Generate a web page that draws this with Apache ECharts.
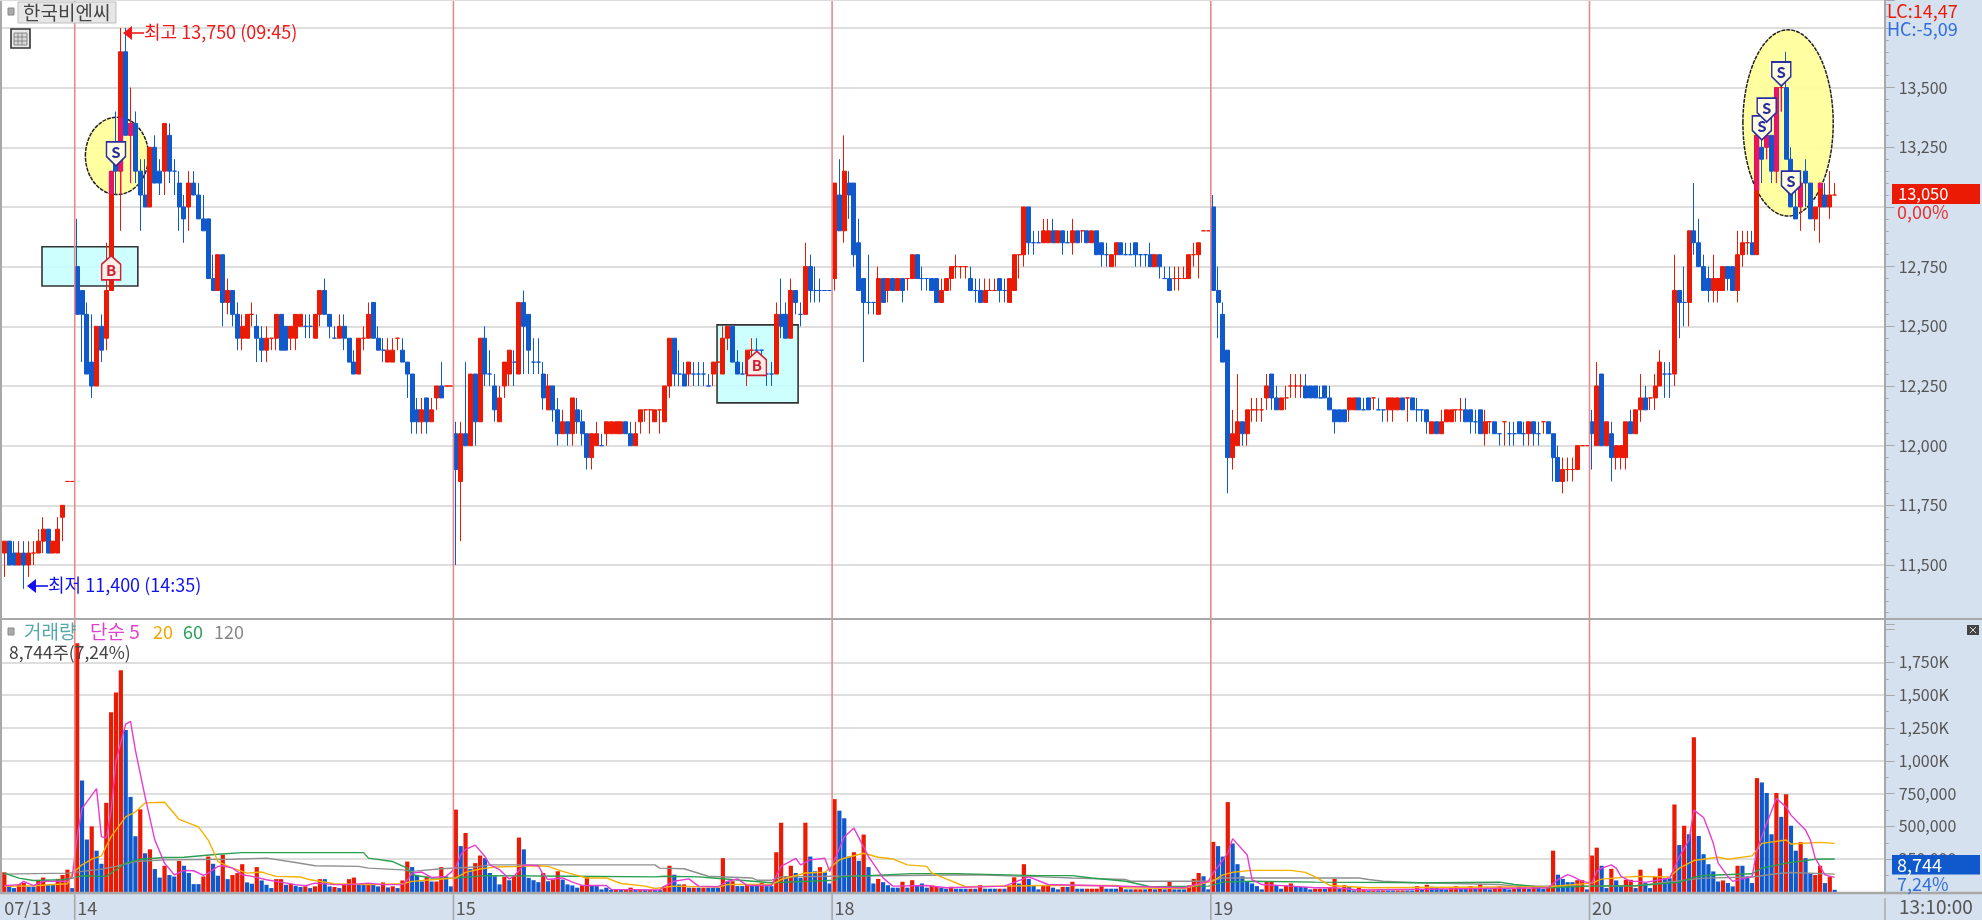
<!DOCTYPE html>
<html><head><meta charset="utf-8">
<style>html,body{margin:0;padding:0;background:#fff}#c{width:1982px;height:920px}</style>
<script src="https://cdn.jsdelivr.net/npm/echarts@6/dist/echarts.min.js"></script>
</head><body><div id="c"></div>
<script>
// candle rows: [open, close, low, high]; a trailing 1 marks a flat candle drawn blue
const day0713=[[11550,11600,11450,11600],[11600,11500,11500,11600],[11550,11500,11500,11600],[11500,11550,11500,11600],[11550,11500,11400,11600],[11500,11550,11450,11600],[11550,11550,11500,11600],[11550,11600,11550,11650],[11600,11650,11550,11700],[11650,11550,11550,11650],[11550,11600,11550,11600],[11550,11650,11550,11700],[11700,11750,11600,11750],[11850,11850,11850,11850],[11850,11850,11850,11850]];
const day14=[[12750,12550,12550,12950],[12650,12550,12350,12650],[12550,12300,12300,12600],[12350,12250,12200,12550],[12250,12500,12250,12500],[12500,12400,12350,12550],[12450,12650,12400,12850],[12650,13150,12650,13150],[13200,13150,13050,13400],[13150,13650,12900,13750],[13650,13300,13300,13750],[13300,13350,13100,13500],[13350,13150,13100,13400],[13150,13050,12900,13200],[13050,13000,13000,13200],[13000,13250,13000,13250],[13250,13100,13100,13300],[13150,13100,13050,13200],[13150,13350,13050,13350],[13300,13150,13100,13350],[13150,13150,13050,13200,1],[13100,13000,12900,13150],[13000,12950,12850,13050],[13000,13100,12900,13150],[13100,13050,13050,13150],[13050,12950,12950,13100],[12950,12900,12900,13050],[12950,12700,12700,12950],[12700,12650,12650,12800],[12650,12800,12650,12800],[12800,12600,12500,12800],[12600,12650,12550,12700],[12650,12550,12500,12650],[12550,12450,12400,12600],[12450,12500,12400,12550],[12450,12550,12450,12550],[12550,12550,12500,12600],[12500,12450,12350,12550],[12450,12400,12350,12500],[12400,12450,12350,12500],[12450,12450,12400,12450],[12450,12550,12400,12550],[12550,12400,12400,12550],[12500,12400,12400,12500],[12450,12500,12400,12500],[12450,12550,12400,12550],[12500,12550,12500,12550],[12500,12500,12450,12550,1],[12500,12500,12450,12550,1],[12450,12550,12450,12550],[12550,12650,12500,12650],[12650,12550,12550,12700],[12550,12500,12450,12550],[12450,12450,12450,12500,1],[12450,12500,12450,12550],[12500,12450,12400,12550],[12450,12350,12350,12450],[12350,12300,12300,12400],[12300,12450,12300,12450],[12450,12450,12400,12500],[12450,12550,12450,12600],[12600,12450,12450,12600],[12450,12400,12400,12500],[12400,12400,12350,12450,1],[12350,12400,12350,12450],[12350,12400,12350,12450],[12450,12450,12400,12450],[12400,12350,12350,12450],[12350,12300,12200,12350],[12300,12100,12050,12300],[12150,12100,12050,12200],[12100,12150,12050,12200],[12200,12100,12050,12200],[12100,12150,12100,12200],[12200,12250,12150,12250],[12250,12200,12200,12350],[12250,12250,12250,12250],[12250,12250,12250,12250]];
const day15=[[12050,11900,11500,12100],[11850,12050,11600,12100],[12050,12000,12000,12350],[12000,12300,12000,12300],[12300,12100,12000,12300],[12100,12450,12100,12450],[12450,12300,12250,12500],[12300,12300,12250,12400,1],[12250,12150,12100,12300],[12100,12200,12100,12250],[12250,12350,12200,12350],[12300,12400,12250,12400],[12350,12350,12250,12400,1],[12300,12600,12300,12600],[12600,12500,12300,12650],[12550,12400,12300,12550],[12350,12350,12300,12450,1],[12350,12350,12300,12450,1],[12300,12200,12150,12350],[12150,12250,12150,12300],[12250,12150,12100,12250],[12150,12050,12000,12200],[12050,12100,12050,12150],[12100,12050,12000,12100],[12050,12200,12000,12200],[12150,12100,12050,12200],[12100,12050,12000,12150],[12050,11950,11900,12050],[11950,12050,11900,12050],[12000,12050,12000,12100],[12000,12000,12000,12050,1],[12050,12100,12000,12100],[12050,12100,12050,12100],[12050,12100,12050,12100],[12050,12100,12050,12100],[12100,12050,12050,12100],[12050,12000,12000,12100],[12000,12050,12000,12100],[12100,12150,12050,12150],[12150,12150,12100,12150],[12150,12150,12050,12150],[12100,12150,12100,12150],[12150,12150,12050,12150],[12100,12250,12100,12250],[12250,12450,12200,12450],[12450,12300,12250,12450],[12300,12300,12250,12400,1],[12300,12250,12250,12350],[12300,12350,12250,12350],[12300,12300,12250,12350,1],[12300,12300,12250,12350,1],[12300,12300,12250,12350,1],[12250,12250,12250,12300,1],[12300,12350,12250,12350],[12350,12350,12300,12350],[12300,12450,12300,12500],[12450,12500,12400,12500],[12500,12350,12350,12500],[12350,12300,12300,12400],[12300,12300,12300,12350,1],[12300,12400,12250,12400],[12400,12400,12350,12450],[12400,12400,12350,12450,1],[12400,12400,12350,12400,1],[12300,12300,12250,12300,1],[12300,12300,12250,12350,1],[12300,12550,12300,12600],[12550,12500,12450,12700],[12550,12450,12450,12600],[12450,12650,12450,12700],[12650,12600,12550,12650],[12550,12550,12500,12600,1],[12550,12750,12550,12850],[12750,12650,12600,12800],[12650,12650,12600,12750,1],[12650,12650,12600,12700,1],[12650,12650,12650,12650,1],[12650,12650,12650,12650,1]];
const day18=[[12700,13100,12650,13100],[13050,12900,12900,13200],[12900,13150,12850,13300],[13100,13050,12950,13150],[13100,12800,12750,13100],[12850,12650,12650,12950],[12700,12600,12350,12700],[12600,12600,12550,12800,1],[12600,12600,12550,12600,1],[12550,12700,12550,12750],[12700,12600,12600,12700],[12650,12700,12600,12700],[12700,12650,12650,12700],[12650,12700,12650,12700],[12700,12650,12600,12700],[12700,12700,12650,12700],[12700,12800,12700,12800],[12800,12700,12700,12800],[12700,12700,12650,12750,1],[12700,12700,12650,12700,1],[12700,12650,12650,12700],[12700,12600,12600,12700],[12600,12650,12600,12700],[12650,12700,12650,12700],[12700,12750,12650,12750],[12750,12750,12700,12800],[12750,12750,12700,12750],[12750,12750,12700,12750],[12700,12650,12650,12750],[12650,12650,12600,12700,1],[12650,12600,12600,12700],[12600,12650,12600,12700],[12650,12650,12650,12700],[12650,12650,12650,12700],[12700,12650,12600,12700],[12650,12650,12600,12700,1],[12600,12700,12600,12700],[12650,12800,12650,12800],[12800,12800,12700,12800],[12800,13000,12750,13000],[13000,12850,12800,13000],[12850,12850,12800,12900,1],[12850,12850,12850,12900,1],[12850,12900,12850,12950],[12850,12900,12850,12950],[12900,12850,12850,12950],[12850,12900,12850,12900],[12900,12850,12800,12900],[12850,12850,12850,12900,1],[12850,12900,12800,12950],[12900,12850,12850,12900],[12900,12900,12850,12900],[12900,12850,12850,12900],[12850,12900,12850,12900],[12900,12800,12800,12900],[12850,12800,12750,12850],[12800,12800,12750,12850,1],[12750,12800,12750,12800],[12800,12850,12750,12850],[12850,12800,12800,12850],[12800,12800,12800,12850,1],[12800,12800,12800,12850,1],[12850,12800,12750,12850],[12800,12800,12750,12800,1],[12800,12800,12750,12800,1],[12800,12750,12750,12850],[12750,12800,12750,12800],[12800,12750,12700,12800],[12700,12700,12700,12750,1],[12700,12650,12650,12750],[12700,12700,12650,12750],[12700,12700,12650,12750],[12700,12700,12700,12750],[12700,12800,12700,12800],[12800,12800,12750,12850],[12800,12850,12700,12850],[12900,12900,12900,12900],[12900,12900,12900,12900]];
const day19=[[13000,12650,12650,13050],[12650,12600,12450,12750],[12550,12350,12350,12600],[12400,11950,11800,12400],[11950,12050,11900,12150],[12000,12100,12000,12300],[12100,12050,12000,12100],[12050,12150,12000,12150],[12150,12150,12100,12200],[12150,12150,12100,12200],[12150,12150,12100,12200],[12200,12250,12150,12300],[12300,12200,12150,12300],[12200,12150,12150,12250],[12150,12200,12150,12200],[12200,12200,12150,12250],[12250,12250,12200,12300],[12250,12250,12200,12300],[12250,12250,12200,12300],[12250,12200,12200,12300],[12250,12200,12200,12250],[12250,12200,12200,12250],[12200,12200,12200,12250,1],[12250,12200,12200,12250],[12200,12150,12150,12250],[12150,12100,12050,12150],[12150,12100,12100,12150],[12150,12100,12100,12150],[12150,12200,12100,12200],[12150,12200,12150,12200],[12200,12150,12150,12200],[12150,12150,12150,12200,1],[12200,12150,12150,12200],[12200,12200,12150,12200],[12150,12150,12150,12200,1],[12150,12150,12100,12150,1],[12150,12200,12100,12200],[12150,12200,12100,12200],[12150,12200,12150,12200],[12200,12150,12150,12200],[12200,12200,12100,12200],[12200,12150,12150,12200],[12150,12150,12100,12200,1],[12150,12150,12100,12150,1],[12150,12100,12050,12150],[12050,12100,12050,12100],[12100,12050,12050,12100],[12050,12100,12050,12150],[12100,12150,12100,12150],[12100,12150,12100,12150],[12150,12150,12100,12150],[12150,12150,12100,12200],[12150,12100,12100,12200],[12150,12100,12050,12150],[12100,12100,12050,12150,1],[12150,12050,12050,12150],[12050,12100,12000,12150],[12100,12100,12050,12100],[12100,12050,12050,12100],[12050,12050,12000,12050,1],[12100,12100,12000,12100],[12050,12050,12000,12100,1],[12050,12050,12000,12100,1],[12100,12050,12050,12100],[12050,12050,12000,12100,1],[12050,12100,12000,12100],[12100,12050,12000,12100],[12050,12050,12000,12100,1],[12100,12100,12050,12100],[12100,12050,12050,12100],[12050,11950,11850,12050],[11950,11850,11850,12000],[11850,11900,11800,11950],[11900,11900,11850,11950],[11900,11900,11850,11950],[11900,12000,11900,12000],[12000,12000,12000,12000],[12000,12000,12000,12000]];
const day20=[[12100,12050,11900,12150],[12000,12250,12000,12350],[12300,12000,12000,12300],[12000,12100,12000,12100],[12050,11950,11850,12100],[11950,12000,11900,12000],[11950,12000,11900,12000],[11950,12100,11900,12100],[12100,12050,12050,12150],[12050,12150,12050,12150],[12150,12200,12100,12300],[12200,12150,12150,12250],[12200,12200,12150,12200],[12200,12250,12150,12300],[12250,12350,12250,12400],[12300,12300,12200,12350,1],[12300,12300,12200,12350,1],[12300,12650,12250,12800],[12650,12600,12450,12650],[12600,12600,12500,12750,1],[12600,12900,12500,12900],[12900,12850,12800,13100],[12850,12750,12750,12950],[12750,12650,12650,12800],[12700,12650,12600,12750],[12650,12700,12600,12800],[12650,12700,12600,12700],[12650,12750,12650,12750],[12750,12700,12650,12750],[12750,12650,12650,12750],[12650,12800,12600,12900],[12800,12850,12750,12900],[12850,12850,12800,12900],[12850,12800,12800,12900],[12800,13300,12800,13300],[13250,13200,13100,13300],[13250,13300,13200,13400],[13300,13150,13100,13300],[13150,13500,13100,13500],[13500,13500,13400,13550],[13500,13200,13200,13650],[13200,13000,13000,13250],[13000,12950,12950,13100],[13000,13100,12900,13100],[13150,13100,13000,13200],[13100,12950,12950,13100],[12950,13000,12900,13000],[13000,13100,12850,13100],[13050,13000,13000,13100],[13000,13050,12950,13150],[13050,13050,13050,13100]];

// volume in thousands of shares; negative = blue bar, positive = red bar
const vol0713=[150,-45,-30,60,70,-40,-40,90,110,-55,-55,100,130,170,-30];
const vol14=[1896,-850,-400,500,-315,-215,680,1370,1520,1690,-1235,-725,-425,630,-295,325,-175,-110,200,-130,-118,237,-200,-145,-60,-60,118,270,-215,-124,283,-98,130,144,212,-73,-63,190,-88,-55,-30,98,98,-55,63,-48,-38,43,-30,43,98,-98,-43,38,-30,55,98,110,-55,-55,55,-55,-43,73,-35,43,-30,88,232,-190,-130,-80,118,-80,80,190,-118,-43];
const vol15=[628,-350,450,-175,220,278,-258,-145,-120,-58,115,-90,120,415,-325,-108,-90,-75,145,-82,95,158,-95,-58,-50,-33,50,115,-50,-45,-20,-33,-15,15,-15,15,33,-15,15,-15,15,-15,-15,45,200,-132,-58,58,-33,33,-33,33,-33,-33,-33,258,-82,82,-45,-45,58,-50,-50,70,-45,-45,303,528,-120,200,-145,-108,528,-270,-158,190,-150,-65];
const vol18=[708,-620,-562,-270,303,-238,438,-190,-65,100,-75,-52,-33,-33,78,-33,90,-50,-65,-33,50,40,-33,-25,40,-25,-25,-25,25,-25,52,-25,-25,-25,25,-25,50,112,-65,212,-100,-50,-20,50,50,-33,-20,38,-38,78,-25,-25,25,25,25,45,-25,-25,-25,38,-20,-20,20,20,-20,25,-20,25,-20,78,-20,-20,-20,50,100,145,-120,-20];
const vol19=[382,-350,-270,685,-370,-212,-120,-82,-65,-45,-20,82,82,-50,-25,50,65,-38,-38,-38,-20,25,25,-25,33,100,-25,52,-40,-12,33,20,-12,12,-12,12,-12,-12,12,12,-12,-12,45,-20,55,-40,-33,-25,-20,33,45,-25,-25,45,-25,58,-25,-20,33,45,-25,-20,25,-45,33,-25,45,-45,-25,45,315,-132,-100,-75,-75,90,90,-20];
const vol20=[278,338,-200,-30,177,-88,-43,93,93,-30,170,-68,-30,118,180,-105,-105,667,-358,505,-440,1180,-427,-288,-212,-157,-80,88,-68,-43,200,-200,-118,-68,868,-835,-755,-440,755,-573,745,-505,-315,380,-258,-144,130,200,-68,118,-17];

// moving-average curves: [bar index, thousands]
const ma5=[[0,48],[3,56],[4,81],[6,48],[8,81],[13,81],[14,119],[15,422],[16,636],[17,687],[19,788],[20,422],[21,410],[22,624],[23,1000],[25,1280],[26,1300],[27,1080],[29,725],[31,396],[33,220],[35,131],[37,164],[39,162],[41,126],[42,144],[44,195],[45,200],[47,182],[49,131],[51,119],[54,93],[56,81],[60,56],[62,48],[64,68],[68,56],[71,56],[75,68],[78,56],[82,56],[83,93],[84,144],[86,152],[88,111],[91,119],[92,150],[93,190],[94,282],[95,325],[97,357],[99,270],[100,207],[102,170],[104,100],[105,120],[107,207],[110,200],[111,132],[112,95],[115,107],[117,75],[119,50],[124,50],[125,20],[135,15],[136,45],[138,82],[141,100],[143,45],[147,40],[149,82],[151,100],[153,50],[158,50],[160,195],[163,257],[164,207],[166,245],[169,257],[170,157],[173,420],[175,487],[178,270],[181,107],[183,45],[190,50],[194,32],[206,45],[211,115],[215,57],[243,32],[248,82],[249,145],[252,295],[253,407],[256,282],[257,95],[259,57],[265,45],[270,32],[274,32],[279,15],[318,32],[320,95],[322,132],[323,119],[325,81],[327,68],[328,157],[329,182],[331,207],[332,182],[333,119],[335,81],[337,81],[338,73],[343,106],[344,182],[345,270],[347,396],[348,624],[350,568],[351,472],[352,371],[353,220],[355,119],[356,81],[360,119],[361,321],[363,523],[365,712],[367,649],[368,586],[371,472],[372,396],[373,258],[375,131],[377,111]];
const ma20=[[0,43],[6,48],[13,63],[14,144],[16,207],[18,250],[20,275],[22,422],[25,573],[27,611],[29,679],[33,684],[35,598],[36,553],[40,497],[42,396],[44,232],[47,182],[50,144],[53,152],[56,119],[61,114],[63,93],[68,63],[75,56],[82,63],[84,81],[88,93],[93,107],[95,150],[98,175],[101,190],[106,195],[110,200],[112,195],[115,157],[118,127],[120,107],[124,107],[127,65],[132,45],[134,27],[138,45],[147,37],[149,57],[158,57],[160,95],[165,145],[169,150],[172,245],[173,257],[177,295],[180,265],[183,252],[186,207],[190,195],[191,145],[194,100],[198,40],[214,50],[229,50],[231,32],[243,27],[249,85],[251,130],[253,150],[257,165],[265,165],[268,150],[270,115],[273,50],[281,32],[318,40],[327,68],[329,98],[336,119],[343,114],[345,182],[348,240],[353,265],[355,250],[360,275],[362,371],[367,396],[368,366],[374,378],[377,371]];
const ma60=[[0,144],[3,106],[6,88],[12,93],[14,106],[16,124],[21,119],[25,220],[28,250],[33,263],[37,265],[44,288],[49,300],[74,300],[75,258],[80,232],[83,182],[84,131],[88,106],[93,107],[99,125],[117,120],[134,115],[136,120],[143,115],[146,107],[158,70],[171,90],[172,115],[187,140],[196,140],[213,125],[220,125],[224,107],[231,82],[234,57],[236,40],[248,45],[251,75],[257,82],[270,75],[293,70],[308,75],[311,57],[318,32],[327,45],[336,48],[345,73],[348,111],[350,126],[360,139],[362,182],[367,220],[373,250],[377,252]];
const ma120=[[0,136],[13,144],[20,174],[23,195],[27,232],[33,245],[47,250],[54,258],[60,225],[64,200],[73,195],[75,182],[82,169],[84,157],[90,177],[97,190],[100,207],[134,207],[135,182],[140,177],[145,120],[154,107],[155,90],[158,90],[160,115],[171,120],[200,132],[214,115],[220,107],[231,95],[232,82],[248,82],[251,107],[279,107],[281,95],[284,82],[291,70],[308,57],[311,45],[327,45],[336,48],[344,81],[350,106],[360,114],[365,139],[368,149],[377,136]];

// signals and annotations in data terms
const sellMarks=[[23,13222],[362,13331],[363,13406],[366,13557],[368,13100]];
const buyMarks=[[22,12745],[155,12345]];
const ellipses=[{i:23.2,price:13214,rBars:6.5,rPrice:162},{i:367.4,price:13352,rBars:9.3,rPrice:390}];
const boxes=[{i0:7.76,i1:27.5,p0:12669,p1:12833},{i0:146.8,i1:163.5,p0:12179,p1:12506}];

const dayStarts={0:'07/13',15:'14',93:'15',171:'18',249:'19',327:'20'};
const TOTAL=388;
const priceTicks={min:11250,max:13867,step:250};
const hiddenPriceLabels=[11250,13000,13750,13867];

const RED='#ea1a05',BLUE='#1059cc',PINK='#e5156f',BAND='#d6e1ef',GRIDC='#dedede',AX='#a8a8a8';
const FONT='"Noto Sans CJK KR","Noto Sans",sans-serif';

const cats=new Array(TOTAL).fill('').map((_,i)=>dayStarts[i]||'');
const rows=new Array(TOTAL).fill(null), vols=new Array(TOTAL).fill(null);
[[0,day0713,vol0713],[15,day14,vol14],[93,day15,vol15],[171,day18,vol18],[249,day19,vol19],[327,day20,vol20]].forEach(([s,d,v])=>{
  d.forEach((r,k)=>rows[s+k]=r); v.forEach((x,k)=>vols[s+k]=x);
});
const candleData=rows.map(r=>{
  if(!r) return '-';
  const blue=r[1]<r[0]||r[4]===1, c=blue?BLUE:RED;
  return {value:r.slice(0,4),itemStyle:{color:c,color0:c,borderColor:c,borderColor0:c}};
});
const volData=vols.map(v=>v==null?'-':{value:Math.abs(v),itemStyle:{color:v<0?BLUE:RED}});

const chart=echarts.init(document.getElementById('c'),null,{renderer:'canvas',width:1982,height:920});
const L=1.9,BW=4.855,PW=TOTAL*BW;
const lab=(f,c)=>({fontFamily:FONT,fontSize:16,color:'#555',formatter:f,margin:13,...(c||{})});

function ellipsePx(api,e){
  const base=Math.floor(e.i),w=api.size([1,0])[0];
  const c=api.coord([base,e.price]);
  const top=api.coord([base,e.price+e.rPrice])[1];
  return {cx:c[0]+(e.i-base)*w,cy:c[1],rx:e.rBars*w,ry:c[1]-top};
}
const maLine=(name,data,color,z)=>({name,type:'line',xAxisIndex:1,yAxisIndex:1,data,symbol:'none',silent:true,z,
  lineStyle:{color,width:1.4},clip:true,animation:false});

chart.setOption({
  animation:false,
  backgroundColor:BAND,
  grid:[
    {left:L,width:PW,top:0,height:624.67,containLabel:false},
    {left:L,width:PW,top:629.6,height:262.4,containLabel:false}
  ],
  xAxis:[
    {type:'category',gridIndex:0,data:cats,show:false,boundaryGap:true},
    {type:'category',gridIndex:1,data:cats,boundaryGap:true,axisLine:{show:false},axisTick:{show:false},
     axisLabel:{interval:(i)=>!!dayStarts[i],align:'left',fontFamily:FONT,fontSize:18,color:'#555',margin:7,showMinLabel:true,hideOverlap:false}}
  ],
  yAxis:[
    {type:'value',gridIndex:0,position:'right',min:priceTicks.min,max:priceTicks.max,interval:priceTicks.step,
     axisLine:{show:false},axisTick:{show:true,inside:false,length:9,lineStyle:{color:AX,width:1}},
     minorTick:{show:true,splitNumber:5,length:3,lineStyle:{color:AX,width:1}},
     splitLine:{show:true,lineStyle:{color:GRIDC,width:2},showMinLine:false,showMaxLine:false},
     axisLabel:lab(v=>hiddenPriceLabels.includes(v)?'':echarts.format.addCommas(v))},
    {type:'value',gridIndex:1,position:'right',min:0,max:2000,interval:250,
     axisLine:{show:false},axisTick:{show:true,inside:false,length:9,lineStyle:{color:AX,width:1}},
     minorTick:{show:true,splitNumber:2,length:3,lineStyle:{color:AX,width:1}},
     splitLine:{show:true,lineStyle:{color:GRIDC,width:2},showMinLine:false,showMaxLine:false},
     axisLabel:lab(v=>(v===0||v===2000)?'':(v>=1000?echarts.format.addCommas(v)+'K':echarts.format.addCommas(v*1000)))}
  ],
  series:[
    {type:'custom',xAxisIndex:0,yAxisIndex:0,z:1,silent:true,clip:false,data:boxes.map(b=>[Math.round(b.i0),b.p0]),
     renderItem:(p,api)=>{const b=boxes[p.dataIndex],w=api.size([1,0])[0];
       const i=Math.floor(b.i0),a=api.coord([i,b.p1]),c=api.coord([i,b.p0]);
       const x0=a[0]+(b.i0-i)*w,x1=a[0]+(b.i1-i)*w;
       return {type:'rect',shape:{x:x0,y:a[1],width:x1-x0,height:c[1]-a[1]},style:{fill:'rgba(198,255,255,0.88)',stroke:'#333',lineWidth:1.6}};}},
    {type:'custom',xAxisIndex:0,yAxisIndex:0,z:1,silent:true,clip:false,data:ellipses.map(e=>[Math.round(e.i),e.price]),
     renderItem:(p,api)=>{const s=ellipsePx(api,ellipses[p.dataIndex]);
       return {type:'ellipse',shape:s,style:{fill:'rgba(255,255,153,0.92)',stroke:'#222',lineWidth:1.5,lineDash:[4,1]}};}},
    {type:'candlestick',xAxisIndex:0,yAxisIndex:0,z:2,data:candleData,barWidth:4.5,silent:true,clip:false,large:false,
     itemStyle:{borderWidth:1}},
    {type:'custom',xAxisIndex:0,yAxisIndex:0,z:3,silent:true,clip:false,
     data:rows.map((r,i)=>[i,r?r[1]:0]),
     renderItem:(p,api)=>{
       const i=p.dataIndex,r=rows[i]; if(!r||r[1]<r[0]) return null;
       const w=api.size([1,0])[0],x=api.coord([i,r[1]])[0];
       for(const e of ellipses){
         const s=ellipsePx(api,e),ex=(x-s.cx)/s.rx;
         if(Math.abs(ex)>=1) continue;
         const h=s.ry*Math.sqrt(1-ex*ex),t=s.cy-h,b=s.cy+h,kids=[];
         const add=(a,c,hw)=>{const y0=Math.max(api.coord([i,a])[1],t),y1=Math.min(api.coord([i,c])[1],b);
           if(y1>y0) kids.push({type:'rect',shape:{x:x-hw,y:y0,width:hw*2,height:y1-y0},style:{fill:PINK}});};
         add(r[3],r[2],0.6); add(Math.max(r[0],r[1]),Math.min(r[0],r[1]),2.3);
         return {type:'group',children:kids};
       }
       return null;
     }},
    {type:'scatter',xAxisIndex:0,yAxisIndex:0,z:4,silent:true,data:sellMarks,symbol:'path://M0 0H18V14L9 23L0 14Z',symbolSize:[19,24],
     itemStyle:{color:'#fffde0',borderColor:'#2a2fa0',borderWidth:1.6,opacity:1},
     label:{show:true,position:'inside',formatter:'S',color:'#2a2fa0',fontFamily:FONT,fontWeight:'bold',fontSize:15,offset:[0,-2]}},
    {type:'scatter',xAxisIndex:0,yAxisIndex:0,z:4,silent:true,data:buyMarks,symbol:'path://M9 0L18 8V23H0V8Z',symbolSize:[19,24],
     itemStyle:{color:'#fdeee8',borderColor:'#cf2038',borderWidth:1.6,opacity:1},
     label:{show:true,position:'inside',formatter:'B',color:'#cf2038',fontFamily:FONT,fontWeight:'bold',fontSize:15,offset:[0,2]}},
    {type:'bar',xAxisIndex:1,yAxisIndex:1,data:volData,barWidth:4.2,silent:true,z:2},
    maLine('120',ma120,'#8f8f8f',3),
    maLine('60',ma60,'#28a050',4),
    maLine('20',ma20,'#f5b000',5),
    maLine('5',ma5,'#e83ccf',6)
  ]
});

// frame, day separators, labels
function text(t,x,y,fill,size,extra){return {type:'text',z:100,silent:true,style:{text:t,x,y,fill,font:(size||16)+'px '+FONT,textVerticalAlign:'middle',...(extra||{})}};}
function rect(x,y,w,h,fill,stroke,lw,z){return {type:'rect',z:z==null?100:z,silent:true,shape:{x,y,width:w,height:h},style:{fill,stroke:stroke||null,lineWidth:lw||0}};}
function line(x1,y1,x2,y2,stroke,lw,z){return {type:'line',z:z==null?90:z,silent:true,shape:{x1,y1,x2,y2},style:{stroke,lineWidth:lw||1}};}
const el=[];
el.push(rect(2,0,1883,893,'#fff',null,0,-10));
// day separators
Object.keys(dayStarts).map(Number).filter(i=>i>0).forEach(i=>{
  const x=chart.convertToPixel({xAxisIndex:0},i)-BW/2;
  el.push(line(x,0,x,893,'#e68a8a',1.6,50));
  el.push(line(x,893,x,920,AX,1.6,50));
});
el.push(line(1,0,1,893,AX,2));
el.push(line(0,0.5,1885,0.5,'#dcdcdc',1));
el.push(line(1885,0,1885,893,AX,2));
el.push(line(0,619,1982,619,AX,2));
el.push(line(0,893,1982,893,AX,2.4));
el.push(line(1885,898,1885,920,AX,1.4));
// top-left header
el.push(rect(8,8,6,7,'#aaa','#888',1));
el.push(rect(18,2,98,21,'#e6e6e6','#bdbdbd',1));
el.push(text('한국비엔씨',23,12.5,'#444',19));
el.push(rect(11,29,19,19,'#e9e9e9','#333',1.6));
el.push(rect(14,33,13,12,'#d9d9d9','#888',1));
[18,22].forEach(x=>el.push(line(x,33,x,45,'#888',1,101)));
[37,41].forEach(y=>el.push(line(14,y,27,y,'#888',1,101)));
// high / low notes
el.push({type:'polygon',z:100,silent:true,shape:{points:[[123,33],[132,26],[132,40]]},style:{fill:'#f01818'}});
el.push(line(130,33,144,33,'#f01818',1.6,100));
el.push(text('최고 13,750 (09:45)',144,32,'#f01818',18));
el.push({type:'polygon',z:100,silent:true,shape:{points:[[27,586],[36,579],[36,593]]},style:{fill:'#1010f0'}});
el.push(line(34,586,48,586,'#1010f0',1.6,100));
el.push(text('최저 11,400 (14:35)',48,585,'#1010f0',18));
// right column
el.push(text('LC:14,47',1887,11,RED,18));
el.push(text('HC:-5,09',1887,29,'#2f6fdc',18));
el.push(rect(1892,184,88,20,RED));
el.push(text('13,050',1898,194,'#fff',16.5));
el.push(text('0,00%',1897,212,'#e83030',18));
el.push(rect(1892,855,88,19.5,'#1059cc'));
el.push(text('8,744',1897,865,'#fff',18));
el.push(text('7,24%',1897,884,'#2f6fdc',18));
el.push(text('13:10:00',1899,907,'#555',19));
el.push(rect(1967,625,12,10,'#444'));
el.push(line(1970,627,1976,633,'#ddd',1,101));el.push(line(1970,633,1976,627,'#ddd',1,101));
// volume header
el.push(rect(8,628,6,7,'#aaa','#888',1));
el.push(text('거래량',24,632,'#55a8a8',19));
el.push(text('단순 5',90,632,'#e040d0',19));
el.push(text('20',153,632,'#f0a800',18));
el.push(text('60',183,632,'#2ca05a',18));
el.push(text('120',214,632,'#888',18));
el.push(text('8,744주(7,24%)',9,652,'#444',17.5));
chart.setOption({graphic:{elements:el}});
</script></body></html>
